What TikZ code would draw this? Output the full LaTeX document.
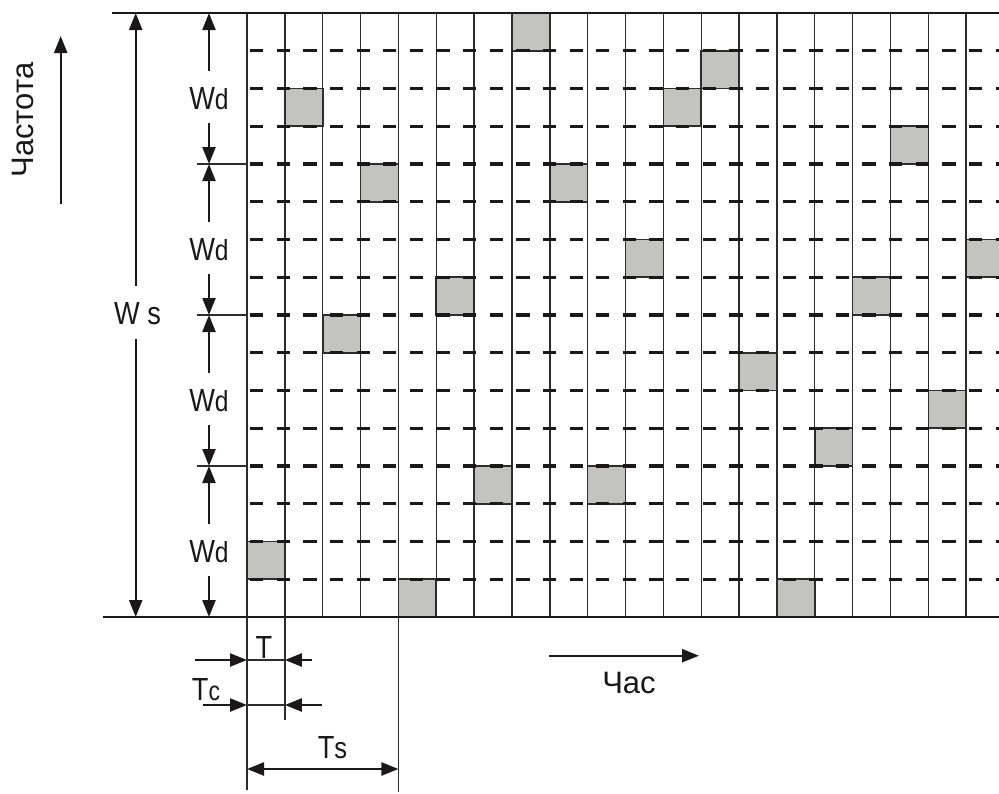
\documentclass[tikz,border=0pt]{standalone}
\usepackage{fontspec}
\setmainfont{Liberation Sans}
\newfontfamily\labfont[FakeStretch=0.85]{Liberation Sans}
\usetikzlibrary{arrows.meta}
\definecolor{ink}{RGB}{26,24,24}
\definecolor{gridc}{RGB}{45,45,45}
\definecolor{sqfill}{RGB}{195,195,193}
\definecolor{sqedge}{RGB}{45,45,45}
\begin{document}
\begin{tikzpicture}[x=1pt,y=-1pt,
  dimarrow/.style={draw=ink, line width=2.4pt, -{Triangle[length=17pt,width=13pt]}},
  dimboth/.style={draw=ink, line width=2.4pt, {Triangle[length=17pt,width=13pt]}-{Triangle[length=17pt,width=13pt]}},
  gridline/.style={draw=gridc, line width=1.4pt},
  dashrow/.style={draw=ink, line width=3.3pt, dash pattern=on 13.3pt off 13.33pt},
  frameline/.style={draw=ink, line width=2.2pt},
  thinline/.style={draw=gridc, line width=1.3pt},
  cell/.style={fill=sqfill, draw=sqedge, line width=1.6pt},
  lab/.style={inner sep=0pt, anchor=base, text=ink, font=\labfont\fontsize{32}{38}\selectfont},
  rulab/.style={inner sep=0pt, anchor=base, text=ink, font=\fontsize{31}{37}\selectfont}]
\useasboundingbox (0,0) rectangle (999,793);
\clip (0,0) rectangle (999,793);
% occupied cells
\foreach \c/\r in {0/14,1/2,2/8,3/4,4/15,5/7,6/12,7/0,8/4,9/12,10/6,11/2,12/1,13/9,14/15,15/11,16/7,17/3,18/10,19/6}
  \filldraw[cell] (247+37.85*\c, 13+37.75*\r) rectangle ++(37.85,37.75);
% vertical grid lines
\foreach \i in {0,...,19}
  \draw[gridline] (247+37.85*\i,13) -- (247+37.85*\i,617);
% dashed rows
\foreach \j in {1,...,15}
  \draw[dashrow] (250,13+37.75*\j) -- (1000,13+37.75*\j);
% frame lines
\coordinate (topL) at (112,13);
\coordinate (topR) at (999,13);
\coordinate (botL) at (103,617);
\coordinate (botR) at (999,617);
\draw[frameline] (topL) -- (topR);
\draw[frameline] (botL) -- (botR);
% Wd sections
\foreach \y in {164,315,466} {
  \coordinate (tkA\y) at (197,\y);
  \coordinate (tkB\y) at (247,\y);
  \draw[thinline] (tkA\y) -- (tkB\y);
}
\foreach \k in {0,1,2,3} {
  \pgfmathsetmacro\ytop{13+151*\k}
  \pgfmathsetmacro\ybot{164+151*\k}
  \coordinate (wt\k) at (209,\ytop);
  \coordinate (wb\k) at (209,\ybot);
  \coordinate (wu\k) at (209,\ytop+58);
  \coordinate (wl\k) at (209,\ytop+110);
  \draw[dimarrow] (wu\k) -- (wt\k);
  \draw[dimarrow] (wl\k) -- (wb\k);
  \node[lab] (wd\k) at (209,\ytop+96) {W{\fontsize{29}{30}\selectfont d}};
}
% Ws
\coordinate (wsT) at (135.7,13);
\coordinate (wsU) at (135.7,286);
\coordinate (wsL) at (135.7,339);
\coordinate (wsB) at (135.7,617);
\draw[dimarrow] (wsU) -- (wsT);
\draw[dimarrow] (wsL) -- (wsB);
\node[lab] (ws) at (137.5,324) {W s};
% frequency axis label
\coordinate (fA) at (60.7,204);
\coordinate (fB) at (60.7,36);
\draw[dimarrow] (fA) -- (fB);
\node[rulab, rotate=90] (freq) at (33.5,120) {Частота};
% extension lines below
\coordinate (e0a) at (247,617);
\coordinate (e0b) at (247,790);
\coordinate (e1a) at (284.85,617);
\coordinate (e1b) at (284.85,720);
\coordinate (e4a) at (398.4,617);
\coordinate (e4b) at (398.4,792);
\draw[thinline] (e0a) -- (e0b);
\draw[thinline] (e1a) -- (e1b);
\draw[thinline] (e4a) -- (e4b);
% T
\coordinate (tL) at (247,660);
\coordinate (tR) at (284.85,660);
\coordinate (tLo) at (195,660);
\coordinate (tRo) at (312,660);
\draw[thinline] (tL) -- (tR);
\draw[dimarrow] (tLo) -- (tL);
\draw[dimarrow] (tRo) -- (tR);
\node[lab] (tlab) at (264,658) {T};
% Tc
\coordinate (cL) at (247,705);
\coordinate (cR) at (284.85,705);
\coordinate (cLo) at (203,705);
\coordinate (cRo) at (322,705);
\draw[thinline] (cL) -- (cR);
\draw[dimarrow] (cLo) -- (cL);
\draw[dimarrow] (cRo) -- (cR);
\node[lab] (tclab) at (206,700) {T{\fontsize{27}{30}\selectfont c}};
% Ts
\coordinate (sL) at (247,769);
\coordinate (sR) at (398.4,769);
\draw[dimboth] (sL) -- (sR);
\node[lab] (tslab) at (332.5,758) {T{\fontsize{30}{30}\selectfont s}};
% time axis
\coordinate (hA) at (549,655.7);
\coordinate (hB) at (699,655.7);
\draw[dimarrow] (hA) -- (hB);
\node[rulab] (time) at (629,693) {Час};
\end{tikzpicture}
\end{document}
